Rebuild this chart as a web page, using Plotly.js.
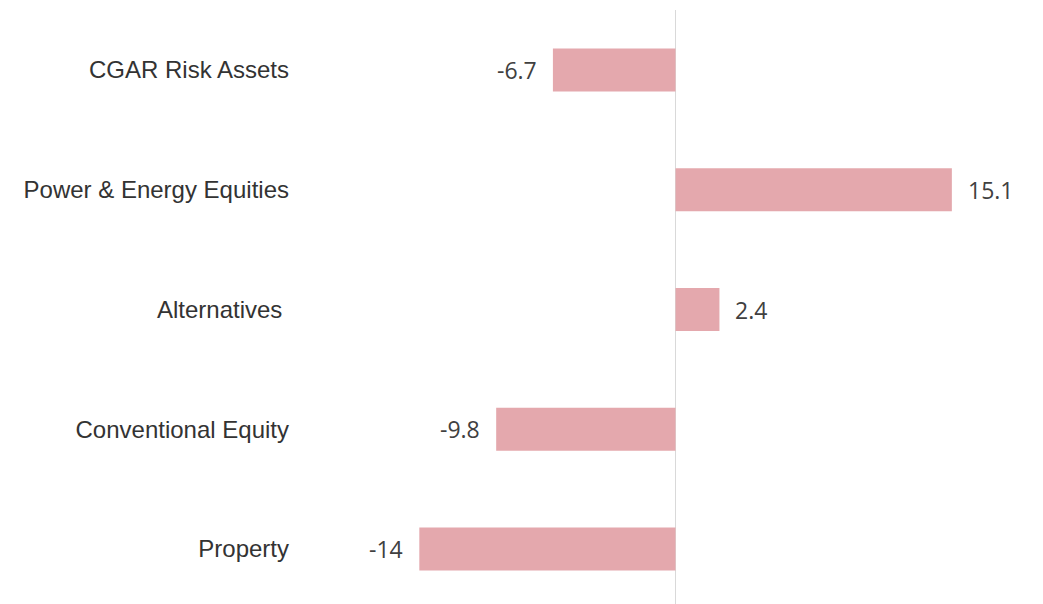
<!DOCTYPE html>
<html>
<head>
<meta charset="utf-8">
<script src="https://cdn.plot.ly/plotly-3.0.1.min.js"></script>
<style>
  html, body { margin: 0; padding: 0; background: #ffffff; }
  #chart { width: 1043px; height: 604px; }
</style>
</head>
<body>
<div id="chart"></div>
<script>
// Data
const categories = ["CGAR Risk Assets", "Power & Energy Equities", "Alternatives\u00a0", "Conventional Equity", "Property"];
const values = [-6.7, 15.1, 2.4, -9.8, -14];
const valueLabels = ["-6.7", "15.1", "2.4", "-9.8", "-14"];

const barColor = "#e4a8ad";

const trace = {
  type: "bar",
  orientation: "h",
  y: categories,
  x: values,
  width: 0.36,
  marker: { color: barColor, line: { width: 0 } },
  hoverinfo: "skip"
};

const annotations = values.map((v, i) => ({
  x: v,
  y: categories[i],
  xref: "x",
  yref: "y",
  text: valueLabels[i],
  showarrow: false,
  xanchor: v >= 0 ? "left" : "right",
  yanchor: "middle",
  xshift: v >= 0 ? 14 : -14,
  font: { family: "'Open Sans', 'Noto Sans', sans-serif", size: 23, color: "#404040" }
}));

const layout = {
  width: 1043,
  height: 604,
  margin: { l: 300, r: 13, t: 10, b: 0, pad: 0 },
  paper_bgcolor: "#ffffff",
  plot_bgcolor: "#ffffff",
  showlegend: false,
  xaxis: {
    range: [-20.52, 19.37],
    showgrid: false,
    showticklabels: false,
    ticks: "",
    showline: false,
    zeroline: true,
    zerolinecolor: "#d9d9d9",
    zerolinewidth: 1.5,
    fixedrange: true
  },
  yaxis: {
    type: "category",
    range: [4.459, -0.501],
    showgrid: false,
    zeroline: false,
    showline: false,
    ticks: "",
    ticklabelstandoff: 10,
    tickfont: { family: "'Liberation Sans', Arial, sans-serif", size: 24, color: "#333333" },
    fixedrange: true
  },
  annotations: annotations
};

Plotly.newPlot("chart", [trace], layout, { displayModeBar: false, staticPlot: true });
</script>
</body>
</html>
